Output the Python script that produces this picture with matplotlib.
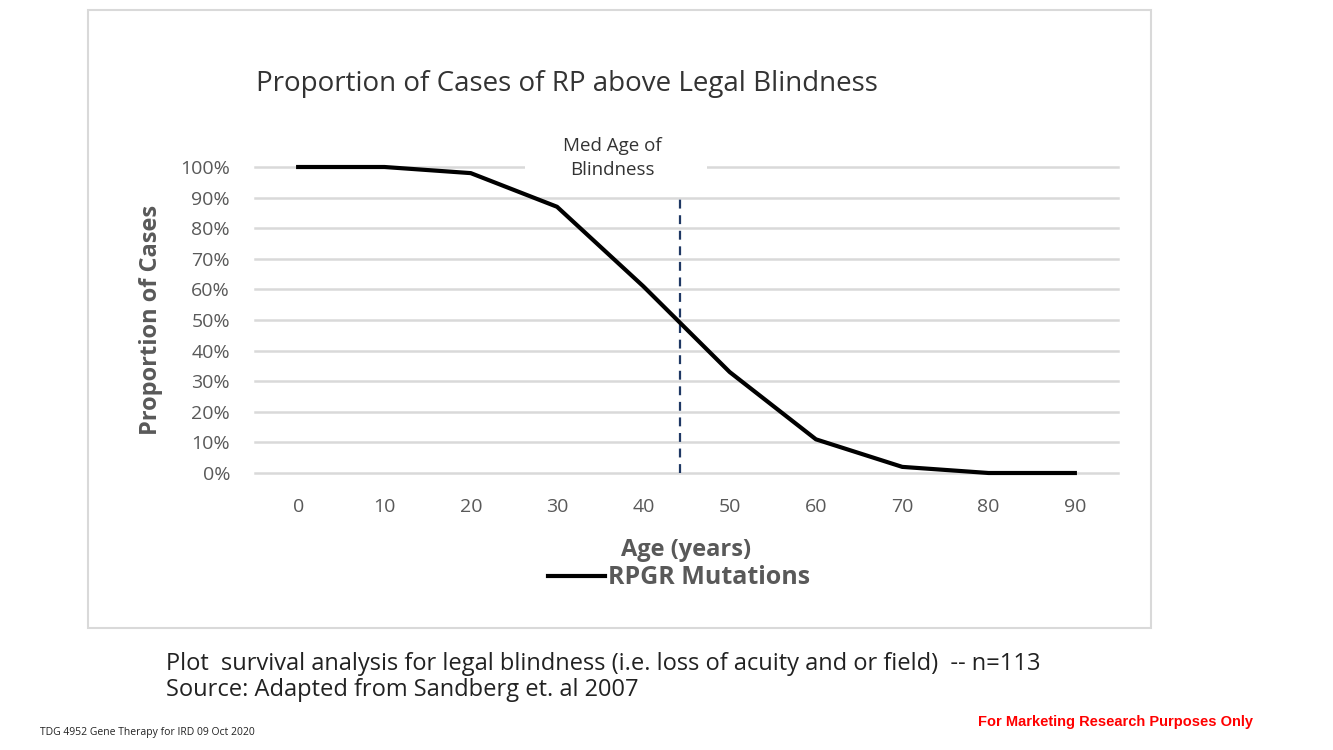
import matplotlib.pyplot as plt
from matplotlib.patches import Rectangle
from matplotlib.ticker import PercentFormatter

ages = [0, 10, 20, 30, 40, 50, 60, 70, 80, 90]
proportion = [1.00, 1.00, 0.98, 0.87, 0.61, 0.33, 0.11, 0.02, 0.00, 0.00]
median_age = 44.2
y_ticks = [0.0, 0.1, 0.2, 0.3, 0.4, 0.5, 0.6, 0.7, 0.8, 0.9, 1.0]

W, H = 1333, 750
GRAY = "#595959"
GRID = "#d9d9d9"
plt.rcParams["font.family"] = ["Open Sans", "DejaVu Sans"]

fig = plt.figure(figsize=(W / 100, H / 100), dpi=100)

# chart frame
fig.patches.append(Rectangle((88 / W, 1 - 628 / H), (1151 - 88) / W, (628 - 10) / H,
                             transform=fig.transFigure, fill=False,
                             edgecolor=GRID, linewidth=1.5))

ax = fig.add_axes([255 / W, 1 - 473 / H, (1118 - 255) / W, (473 - 167) / H])
ax.plot(ages, proportion, color="black", linewidth=3, clip_on=False, zorder=3,
        label="RPGR Mutations")
ax.plot([median_age, median_age], [0, 0.905], color="#1f3864", linewidth=1.6,
        linestyle=(0, (4, 3)), zorder=2)

ax.set_xlim(-5, 95)
ax.set_ylim(0, 1)
ax.set_xticks(ages)
ax.set_yticks(y_ticks)
ax.yaxis.set_major_formatter(PercentFormatter(1.0, decimals=0))
ax.tick_params(length=0, labelsize=14, colors=GRAY)
ax.tick_params(axis="x", pad=18)
ax.tick_params(axis="y", pad=18)
ax.grid(axis="y", color=GRID, linewidth=1.8)
for gl in ax.get_ygridlines():
    gl.set_clip_on(False)
ax.set_axisbelow(True)
for s in ax.spines.values():
    s.set_visible(False)

ax.set_ylabel("Proportion of Cases", fontsize=17, fontweight="bold", color=GRAY, labelpad=12)
ax.set_xlabel("Age (years)", fontsize=17, fontweight="bold", color=GRAY, labelpad=16)

ax.text(36.4, 1.03, "Med Age of\nBlindness", ha="center", va="center", fontsize=13.5,
        color="#333333", linespacing=1.45, zorder=4)
# white gap in the 100% gridline behind the annotation
ax.axhspan(0.985, 1.015, xmin=(525 - 255) / 863, xmax=(707 - 255) / 863,
           facecolor="white", edgecolor="none", zorder=1, clip_on=False)

fig.text(256 / W, 1 - 84 / H, "Proportion of Cases of RP above Legal Blindness",
         fontsize=20, color="#333333", va="center", ha="left")

leg = fig.legend(loc="center", bbox_to_anchor=(679 / W, 1 - 578 / H), frameon=False,
                 fontsize=18, handlelength=2.3, handletextpad=0.1)
for t in leg.get_texts():
    t.set_color(GRAY)
    t.set_fontweight("bold")

fig.text(166 / W, 1 - 664 / H,
         "Plot  survival analysis for legal blindness (i.e. loss of acuity and or field)  -- n=113",
         fontsize=17, color="#222222", va="center")
fig.text(166 / W, 1 - 690 / H, "Source: Adapted from Sandberg et. al 2007",
         fontsize=17, color="#222222", va="center")
fig.text(40 / W, 1 - 732 / H, "TDG 4952 Gene Therapy for IRD 09 Oct 2020",
         fontsize=7.5, color="#222222", va="center")
fig.text(1253 / W, 1 - 722 / H, "For Marketing Research Purposes Only",
         fontsize=10.5, color="red", fontweight="bold", va="center", ha="right",
         family=["Liberation Sans", "DejaVu Sans"])

fig.savefig("out.png", dpi=100)
